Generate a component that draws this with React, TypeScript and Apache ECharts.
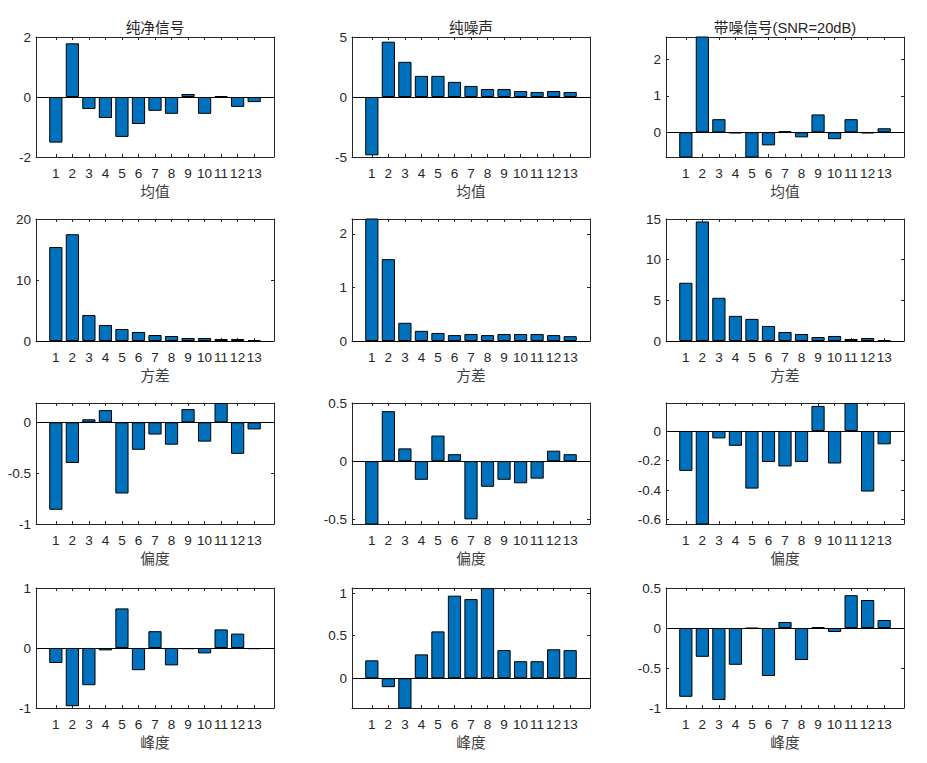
import React, { useEffect, useRef } from 'react';
import * as echarts from 'echarts';

const categories = [1, 2, 3, 4, 5, 6, 7, 8, 9, 10, 11, 12, 13];
const colTitles = ['纯净信号', '纯噪声', '带噪信号(SNR=20dB)'];
const rowLabels = ['均值', '方差', '偏度', '峰度'];

// 均值
const cleanMean = [-1.52, 1.79, -0.4, -0.7, -1.33, -0.9, -0.46, -0.56, 0.1, -0.56, 0.03, -0.33, -0.17];
const noiseMean = [-4.86, 4.61, 2.93, 1.76, 1.76, 1.26, 0.92, 0.67, 0.67, 0.5, 0.42, 0.5, 0.42];
const noisyMean = [-0.72, 2.66, 0.36, -0.03, -0.7, -0.36, 0.03, -0.14, 0.49, -0.19, 0.36, -0.03, 0.11];
// 方差
const cleanVar = [15.4, 17.5, 4.26, 2.62, 1.97, 1.48, 0.98, 0.82, 0.49, 0.49, 0.33, 0.33, 0.16];
const noiseVar = [2.3, 1.53, 0.34, 0.19, 0.15, 0.11, 0.13, 0.11, 0.13, 0.13, 0.13, 0.11, 0.09];
const noisyVar = [7.16, 14.7, 5.31, 3.09, 2.72, 1.85, 1.11, 0.86, 0.49, 0.62, 0.25, 0.37, 0.12];
// 偏度
const cleanSkew = [-0.86, -0.4, 0.03, 0.12, -0.7, -0.27, -0.12, -0.22, 0.13, -0.19, 0.19, -0.31, -0.07];
const noiseSkew = [-0.56, 0.43, 0.11, -0.16, 0.22, 0.06, -0.5, -0.22, -0.16, -0.19, -0.15, 0.09, 0.06];
const noisySkew = [-0.27, -0.65, -0.05, -0.1, -0.39, -0.21, -0.24, -0.21, 0.17, -0.22, 0.19, -0.41, -0.09];
// 峰度
const cleanKurt = [-0.25, -0.97, -0.62, -0.04, 0.66, -0.37, 0.28, -0.29, -0.02, -0.09, 0.31, 0.24, -0.02];
const noiseKurt = [0.21, -0.105, -0.37, 0.28, 0.55, 0.97, 0.93, 1.06, 0.33, 0.2, 0.2, 0.34, 0.33];
const noisyKurt = [-0.86, -0.36, -0.9, -0.46, -0.005, -0.6, 0.075, -0.4, 0.01, -0.05, 0.41, 0.35, 0.1];

const seriesData = [
  [cleanMean, noiseMean, noisyMean],
  [cleanVar, noiseVar, noisyVar],
  [cleanSkew, noiseSkew, noisySkew],
  [cleanKurt, noiseKurt, noisyKurt],
];

const yLimits = [
  [[-2, 2], [-5, 5], [-0.68, 2.62]],
  [[0, 20], [0, 2.28], [0, 15]],
  [[-1, 0.19], [-0.54, 0.5], [-0.63, 0.19]],
  [[-1, 1], [-0.35, 1.06], [-1, 0.5]],
];

const yTickValues = [
  [[-2, 0, 2], [-5, 0, 5], [0, 1, 2]],
  [[0, 10, 20], [0, 1, 2], [0, 5, 10, 15]],
  [[-1, -0.5, 0], [-0.5, 0, 0.5], [-0.6, -0.4, -0.2, 0]],
  [[-1, 0, 1], [0, 0.5, 1], [-1, -0.5, 0, 0.5]],
];

const xLimits = [-0.2, 14.2];

const colLefts = [36, 352, 666];
const rowTops = [37, 219, 403, 588];
const rowHeights = [120, 122, 121, 120];
const plotWidth = 238;

export default function App() {
  const ref = useRef<HTMLDivElement>(null);

  useEffect(() => {
    document.body.style.margin = '0';
    if (!ref.current) return;
    const chart = echarts.init(ref.current, undefined, { renderer: 'svg' });

    const axisColor = '#262626';
    const numFont = "'Liberation Sans', Arial, sans-serif";
    const cjkFont = "'Liberation Sans', 'Noto Sans CJK SC', sans-serif";

    const grids: any[] = [];
    const xAxes: any[] = [];
    const yAxes: any[] = [];
    const series: any[] = [];

    for (let r = 0; r < 4; r++) {
      for (let c = 0; c < 3; c++) {
        const gi = grids.length;
        grids.push({
          left: colLefts[c],
          top: rowTops[r],
          width: plotWidth,
          height: rowHeights[r],
          containLabel: false,
        });
        const lineStyle = { color: axisColor, width: 1 };
        xAxes.push({
          type: 'value',
          gridIndex: gi,
          position: 'bottom',
          min: xLimits[0],
          max: xLimits[1],
          axisLine: { show: true, onZero: false, lineStyle },
          axisTick: { show: true, inside: true, length: 3, customValues: categories, lineStyle },
          axisLabel: {
            customValues: categories,
            margin: 9,
            fontSize: 13.5,
            color: axisColor,
            fontFamily: numFont,
          },
          splitLine: { show: false },
          name: rowLabels[r],
          nameLocation: 'middle',
          nameGap: 28,
          nameTextStyle: { fontSize: 14.7, color: '#404040', fontWeight: 'normal', fontFamily: cjkFont },
        });
        xAxes.push({
          type: 'value',
          gridIndex: gi,
          position: 'top',
          min: xLimits[0],
          max: xLimits[1],
          axisLine: { show: true, onZero: false, lineStyle },
          axisTick: { show: true, inside: true, length: 3, customValues: categories, lineStyle },
          axisLabel: { show: false },
          splitLine: { show: false },
          name: r === 0 ? colTitles[c] : '',
          nameLocation: 'middle',
          nameGap: 2,
          nameTextStyle: { fontSize: 14.7, color: '#262626', fontWeight: 'normal', fontFamily: cjkFont, verticalAlign: 'bottom' },
        });
        const [ymin, ymax] = yLimits[r][c];
        yAxes.push({
          type: 'value',
          gridIndex: gi,
          position: 'left',
          min: ymin,
          max: ymax,
          axisLine: { show: true, onZero: false, lineStyle },
          axisTick: { show: true, inside: true, length: 3, customValues: yTickValues[r][c], lineStyle },
          axisLabel: {
            customValues: yTickValues[r][c],
            margin: 5,
            fontSize: 13.5,
            color: axisColor,
            fontFamily: numFont,
          },
          splitLine: { show: false },
        });
        yAxes.push({
          type: 'value',
          gridIndex: gi,
          position: 'right',
          min: ymin,
          max: ymax,
          axisLine: { show: true, onZero: false, lineStyle },
          axisTick: { show: true, inside: true, length: 3, customValues: yTickValues[r][c], lineStyle },
          axisLabel: { show: false },
          splitLine: { show: false },
        });
        const vals = seriesData[r][c];
        series.push({
          type: 'bar',
          xAxisIndex: 2 * gi,
          yAxisIndex: 2 * gi,
          barWidth: '80%',
          clip: true,
          data: categories.map((cat, j) => [cat, vals[j]]),
          itemStyle: { color: '#0072BD', borderColor: '#000', borderWidth: 1 },
          markLine: {
            silent: true,
            symbol: 'none',
            label: { show: false },
            lineStyle: { color: '#000', width: 1, type: 'solid' },
            data: [{ yAxis: 0 }],
          },
        });
      }
    }

    chart.setOption({
      animation: false,
      backgroundColor: '#fff',
      grid: grids,
      xAxis: xAxes,
      yAxis: yAxes,
      series,
    });

    return () => chart.dispose();
  }, []);

  return <div ref={ref} style={{ width: 927, height: 763 }} />;
}
